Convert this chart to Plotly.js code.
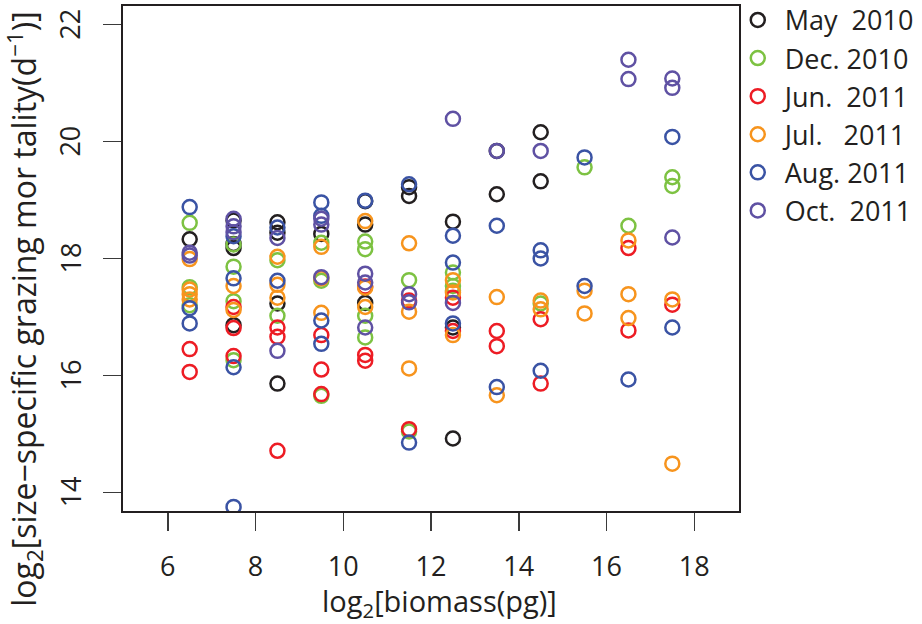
<!DOCTYPE html>
<html>
<head>
<meta charset="utf-8">
<script src="https://cdn.plot.ly/plotly-3.0.1.min.js"></script>
<style>html,body{margin:0;padding:0;background:#fff;}#chart{width:922px;height:624px;}</style>
</head>
<body>
<div id="chart"></div>
<script>
// Series: log2 biomass class (x) and log2 size-specific grazing mortality (y)
const seriesNames = ["\u00a0May\u00a0\u00a02010", "\u00a0Dec.\u00a02010", "\u00a0Jun.\u00a0\u00a02011", "\u00a0Jul.\u00a0\u00a0\u00a02011", "\u00a0Aug.\u00a02011", "\u00a0Oct.\u00a0\u00a02011"];

const may_x = [6.5, 7.5, 7.5, 7.5, 7.5, 8.5, 8.5, 8.5, 8.5, 9.5, 10.5, 10.5, 10.5, 11.5, 11.5, 12.5, 12.5, 12.5, 13.5, 13.5, 14.5, 14.5];
const may_y = [18.33, 18.65, 18.25, 18.18, 16.86, 18.62, 18.44, 17.23, 15.86, 18.42, 18.98, 18.58, 17.24, 19.22, 19.07, 18.63, 16.82, 14.92, 19.84, 19.10, 20.16, 19.32];

const dec_x = [6.5, 6.5, 6.5, 7.5, 7.5, 7.5, 7.5, 8.5, 8.5, 9.5, 9.5, 9.5, 10.5, 10.5, 10.5, 10.5, 11.5, 11.5, 12.5, 12.5, 12.5, 14.5, 15.5, 16.5, 17.5, 17.5];
const dec_y = [18.61, 17.51, 17.20, 18.24, 17.86, 17.27, 16.26, 17.97, 17.02, 18.27, 17.62, 15.65, 18.29, 18.16, 17.02, 16.65, 17.63, 15.04, 17.76, 17.53, 17.45, 17.23, 19.56, 18.56, 19.39, 19.24];

const jun_x = [6.5, 6.5, 7.5, 7.5, 7.5, 8.5, 8.5, 8.5, 9.5, 9.5, 9.5, 10.5, 10.5, 10.5, 11.5, 11.5, 12.5, 12.5, 13.5, 13.5, 14.5, 14.5, 16.5, 16.5, 17.5];
const jun_y = [16.45, 16.06, 17.17, 16.81, 16.33, 16.82, 16.66, 14.71, 16.69, 16.10, 15.68, 17.52, 16.35, 16.25, 17.28, 15.08, 17.33, 16.76, 16.76, 16.50, 16.96, 15.86, 18.18, 16.77, 17.21];

const jul_x = [6.5, 6.5, 6.5, 6.5, 7.5, 7.5, 8.5, 8.5, 8.5, 9.5, 9.5, 9.5, 10.5, 10.5, 10.5, 11.5, 11.5, 11.5, 12.5, 12.5, 12.5, 13.5, 13.5, 14.5, 14.5, 15.5, 15.5, 16.5, 16.5, 16.5, 17.5, 17.5];
const jul_y = [17.99, 17.47, 17.39, 17.30, 17.53, 17.12, 18.03, 17.55, 17.33, 18.20, 17.66, 17.07, 18.64, 17.50, 17.17, 18.26, 17.09, 16.12, 17.63, 17.42, 16.69, 17.34, 15.66, 17.28, 17.13, 17.45, 17.06, 18.31, 17.39, 16.98, 17.30, 14.49];

const aug_x = [6.5, 6.5, 6.5, 7.5, 7.5, 7.5, 7.5, 8.5, 8.5, 9.5, 9.5, 9.5, 9.5, 10.5, 11.5, 11.5, 12.5, 12.5, 12.5, 13.5, 13.5, 14.5, 14.5, 14.5, 15.5, 15.5, 16.5, 17.5, 17.5];
const aug_y = [18.88, 17.15, 16.89, 18.38, 17.66, 16.14, 13.75, 18.53, 17.62, 18.96, 18.73, 16.94, 16.54, 18.99, 19.27, 14.85, 18.39, 17.93, 16.89, 18.56, 15.80, 18.14, 18.00, 16.08, 19.73, 17.53, 15.93, 20.08, 16.82];

const oct_x = [6.5, 6.5, 7.5, 7.5, 7.5, 8.5, 8.5, 9.5, 9.5, 9.5, 10.5, 10.5, 10.5, 11.5, 11.5, 12.5, 12.5, 13.5, 14.5, 16.5, 16.5, 17.5, 17.5, 17.5];
const oct_y = [18.10, 18.05, 18.68, 18.55, 18.45, 18.35, 16.42, 18.68, 18.58, 17.68, 17.74, 17.59, 16.82, 17.39, 17.25, 20.39, 17.24, 19.84, 19.84, 21.40, 21.07, 21.08, 20.92, 18.36];

const xTicks = [6, 8, 10, 12, 14, 16, 18];
const yTicks = [14, 16, 18, 20, 22];

const colors = ["#231f20", "#7dc242", "#ed1c24", "#f7941d", "#3a53a4", "#5f51a3"];
const xs = [may_x, dec_x, jun_x, jul_x, aug_x, oct_x];
const ys = [may_y, dec_y, jun_y, jul_y, aug_y, oct_y];

const traces = seriesNames.map((n, i) => ({
  type: "scatter",
  mode: "markers",
  name: n,
  legendgroup: "g" + i,
  x: xs[i],
  y: ys[i],
  marker: {symbol: "circle-open", size: 14, color: colors[i], line: {width: 2.5, color: colors[i]}},
  cliponaxis: true
}));

const FONT = "Open Sans, Noto Sans, sans-serif";

// rotated y tick labels, placed on the y scale
const yTickLabels = yTicks.map(v => ({
  text: String(v), xref: "paper", yref: "y", x: -0.086, y: v,
  xanchor: "center", yanchor: "middle", textangle: -90, showarrow: false, borderpad: 0,
  font: {size: 27, family: FONT, color: "#231f20"}
}));

const layout = {
  width: 922, height: 624,
  margin: {l: 123, r: 183, t: 6, b: 113, pad: 0, autoexpand: false},
  paper_bgcolor: "#ffffff", plot_bgcolor: "#ffffff",
  font: {family: FONT, color: "#231f20", size: 27},
  showlegend: true,
  xaxis: {
    range: [4.98, 19.02], tickvals: xTicks, ticktext: xTicks.map(String),
    ticks: "outside", ticklen: 18, tickwidth: 1.5, tickcolor: "#3a3a3a",
    showline: true, mirror: true, linecolor: "#231f20", linewidth: 2,
    showgrid: false, zeroline: false, tickfont: {size: 27}, ticklabelstandoff: 13,
    automargin: false
  },
  yaxis: {
    range: [13.68, 22.32], tickvals: yTicks, showticklabels: false,
    ticks: "outside", ticklen: 18, tickwidth: 1.5, tickcolor: "#3a3a3a",
    showline: true, mirror: true, linecolor: "#231f20", linewidth: 2,
    showgrid: false, zeroline: false, automargin: false
  },
  annotations: yTickLabels.concat([{
    text: "log<sub>2</sub>[size\u2212specific grazing mor tality(d<sup>\u22121</sup>)]",
    xref: "paper", yref: "paper", x: -0.161, y: 0.40,
    xanchor: "center", yanchor: "middle", textangle: -90, showarrow: false,
    font: {size: 32, family: FONT, color: "#231f20"}
  }, {
    text: "log<sub>2</sub>[biomass(pg)]",
    xref: "paper", yref: "paper", x: 0.513, y: -0.181,
    xanchor: "center", yanchor: "middle", showarrow: false, borderpad: 0,
    font: {size: 29, family: FONT, color: "#231f20"}
  }]),
  legend: {
    x: 0.998, y: 1.02, xanchor: "left", yanchor: "top",
    font: {size: 27, family: FONT, color: "#231f20"},
    bgcolor: "rgba(0,0,0,0)", borderwidth: 0, tracegroupgap: 0, traceorder: "grouped"
  }
};

Plotly.newPlot("chart", traces, layout, {displayModeBar: false, staticPlot: true});
</script>
</body>
</html>
